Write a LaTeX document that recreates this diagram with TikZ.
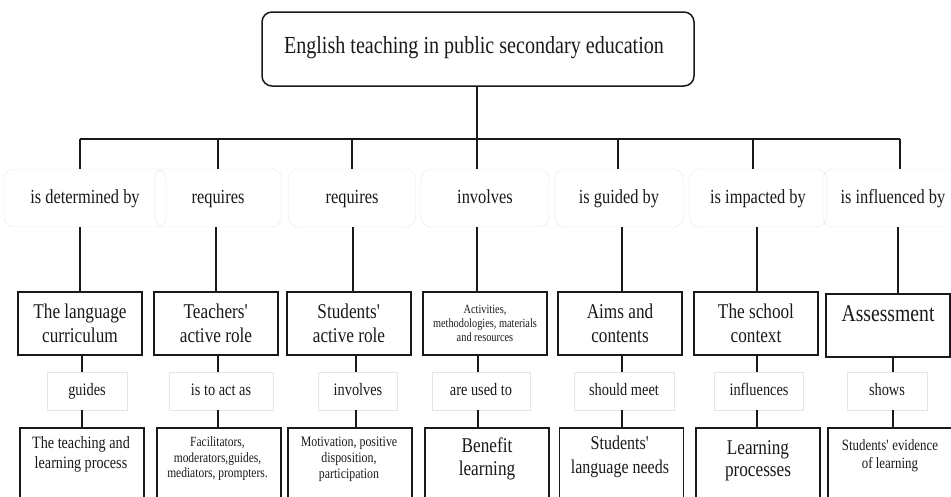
\documentclass[tikz,border=0pt]{standalone}
\usepackage{fontspec}
\setmainfont[FakeStretch=0.82]{Liberation Serif}
\newcommand{\fsz}[2]{\fontsize{#1}{#2}\selectfont}
\newcommand{\apo}{\textquotesingle}
\begin{document}
\begin{tikzpicture}[x=1pt,y=-1pt,
  conn/.style={line width=1.5pt, draw=black!90},
  mainbox/.style={draw=black!90, line width=1.9pt, minimum width=124pt, minimum height=63pt, align=center, inner sep=0pt, font=\fsz{21}{24}, text=black!90},
  botbox/.style={draw=black!90, line width=1.9pt, minimum width=124pt, minimum height=120pt, anchor=north, inner sep=0pt},
  bottext/.style={anchor=north, align=center, inner sep=0pt, text=black!90},
  lab/.style={draw=black!10, rounded corners=10pt, minimum height=58pt, inner sep=0pt, text height=14pt, text depth=4pt, font=\fsz{20}{24}, text=black!90},
  sublab/.style={draw=black!10, minimum height=38pt, inner sep=0pt, text height=12.5pt, text depth=3.5pt, font=\fsz{17.5}{20}, text=black!90},
]
\useasboundingbox (0,0) rectangle (951,496);
\clip (0,0) rectangle (951,496);

% top
\node[draw=black!90, line width=1.5pt, rounded corners=10pt, minimum width=432pt, minimum height=74pt, inner sep=0pt] (top) at (478,49) {};
\node[font=\fsz{24.5}{29}, inner sep=0pt, text=black!90] (toptext) at (474,48) {English teaching in public secondary education};

% column coordinates
\coordinate (b1) at (80,139);  \coordinate (b2) at (218,139); \coordinate (b3) at (352,139);
\coordinate (b4) at (477,139); \coordinate (b5) at (618,139); \coordinate (b6) at (753,139);
\coordinate (b7) at (900,139);
\coordinate (d1) at (80,250);  \coordinate (d2) at (216,250); \coordinate (d3) at (353,250);
\coordinate (d4) at (477,250); \coordinate (d5) at (622,250); \coordinate (d6) at (757,250);
\coordinate (d7) at (898,250);
\coordinate (e1) at (82,365);  \coordinate (e2) at (218,365); \coordinate (e3) at (356,365);
\coordinate (e4) at (478,365); \coordinate (e5) at (622,365); \coordinate (e6) at (757,365);
\coordinate (e7) at (893,365);

% row 1 labels
\node[lab, minimum width=162pt] (l1) at (85,198) {is determined by};
\node[lab, minimum width=127pt] (l2) at (218,198) {requires};
\node[lab, minimum width=127pt] (l3) at (352,198) {requires};
\node[lab, minimum width=128pt] (l4) at (485,198) {involves};
\node[lab, minimum width=129pt] (l5) at (619,198) {is guided by};
\node[lab, minimum width=137pt] (l6) at (758,198) {is impacted by};
\node[lab, minimum width=140pt] (l7) at (893,198) {is influenced by};

% main boxes
\node[mainbox] (m1) at (80,323.5) {The language\\curriculum};
\node[mainbox] (m2) at (216,323.5) {Teachers\apo\\active role};
\node[mainbox] (m3) at (349,323.5) {Students\apo\\active role};
\node[mainbox, font=\fsz{12.6}{14}] (m4) at (485,323.5) {Activities,\\methodologies, materials\\and resources};
\node[mainbox] (m5) at (620,323.5) {Aims and\\contents};
\node[mainbox] (m6) at (756,323.5) {The school\\context};
\node[mainbox, font=\fsz{24}{24}] (m7) at (888,325.5) {Assessment\\\mbox{}};

% row 3 labels
\node[sublab, minimum width=80pt] (s1) at (87,391) {guides};
\node[sublab, minimum width=104pt] (s2) at (221,391) {is to act as};
\node[sublab, minimum width=79pt] (s3) at (358,391) {involves};
\node[sublab, minimum width=98pt] (s4) at (481,391) {are used to};
\node[sublab, minimum width=100pt] (s5) at (624,391) {should meet};
\node[sublab, minimum width=89pt] (s6) at (759,391) {influences};
\node[sublab, minimum width=80pt] (s7) at (887,391) {shows};

% bottom boxes
\node[botbox] (n1) at (82,427) {};
\node[botbox] (n2) at (219,427) {};
\node[botbox] (n3) at (350,427) {};
\node[botbox] (n4) at (487,427) {};
\node[botbox] (n5) at (621.5,427) {};
\node[botbox] (n6) at (758,427) {};
\node[botbox] (n7) at (890,427) {};

\node[bottext, font=\fsz{17.3}{20}] (t1) at (81,436) {The teaching and\\learning process};
\node[bottext, font=\fsz{14}{15.5}] (t2) at (217.5,437) {Facilitators,\\moderators,guides,\\mediators, prompters.};
\node[bottext, font=\fsz{14.5}{16}] (t3) at (349,437) {Motivation, positive\\disposition,\\participation};
\node[bottext, font=\fsz{21}{23}] (t4) at (487,438) {Benefit\\learning};
\node[bottext, font=\fsz{19.5}{24}] (t5) at (620,436) {Students\apo\\language needs};
\node[bottext, font=\fsz{21}{22}] (t6) at (758,440) {Learning\\processes};
\node[bottext, font=\fsz{15.7}{18.5}] (t7) at (890,439) {Students\apo{} evidence\\of learning};

% connectors
\draw[conn] (b4 |- top.south) -- (b4);
\draw[conn] (b1) -- (b7);
\foreach \k in {1,...,7}{
  \draw[conn] (b\k) -- (b\k |- l\k.north);
  \draw[conn] (d\k |- l\k.south) -- (d\k |- m\k.north);
  \draw[conn] (e\k |- m\k.south) -- (e\k |- s\k.north);
  \draw[conn] (e\k |- s\k.south) -- (e\k |- n\k.north);
}
\end{tikzpicture}
\end{document}
